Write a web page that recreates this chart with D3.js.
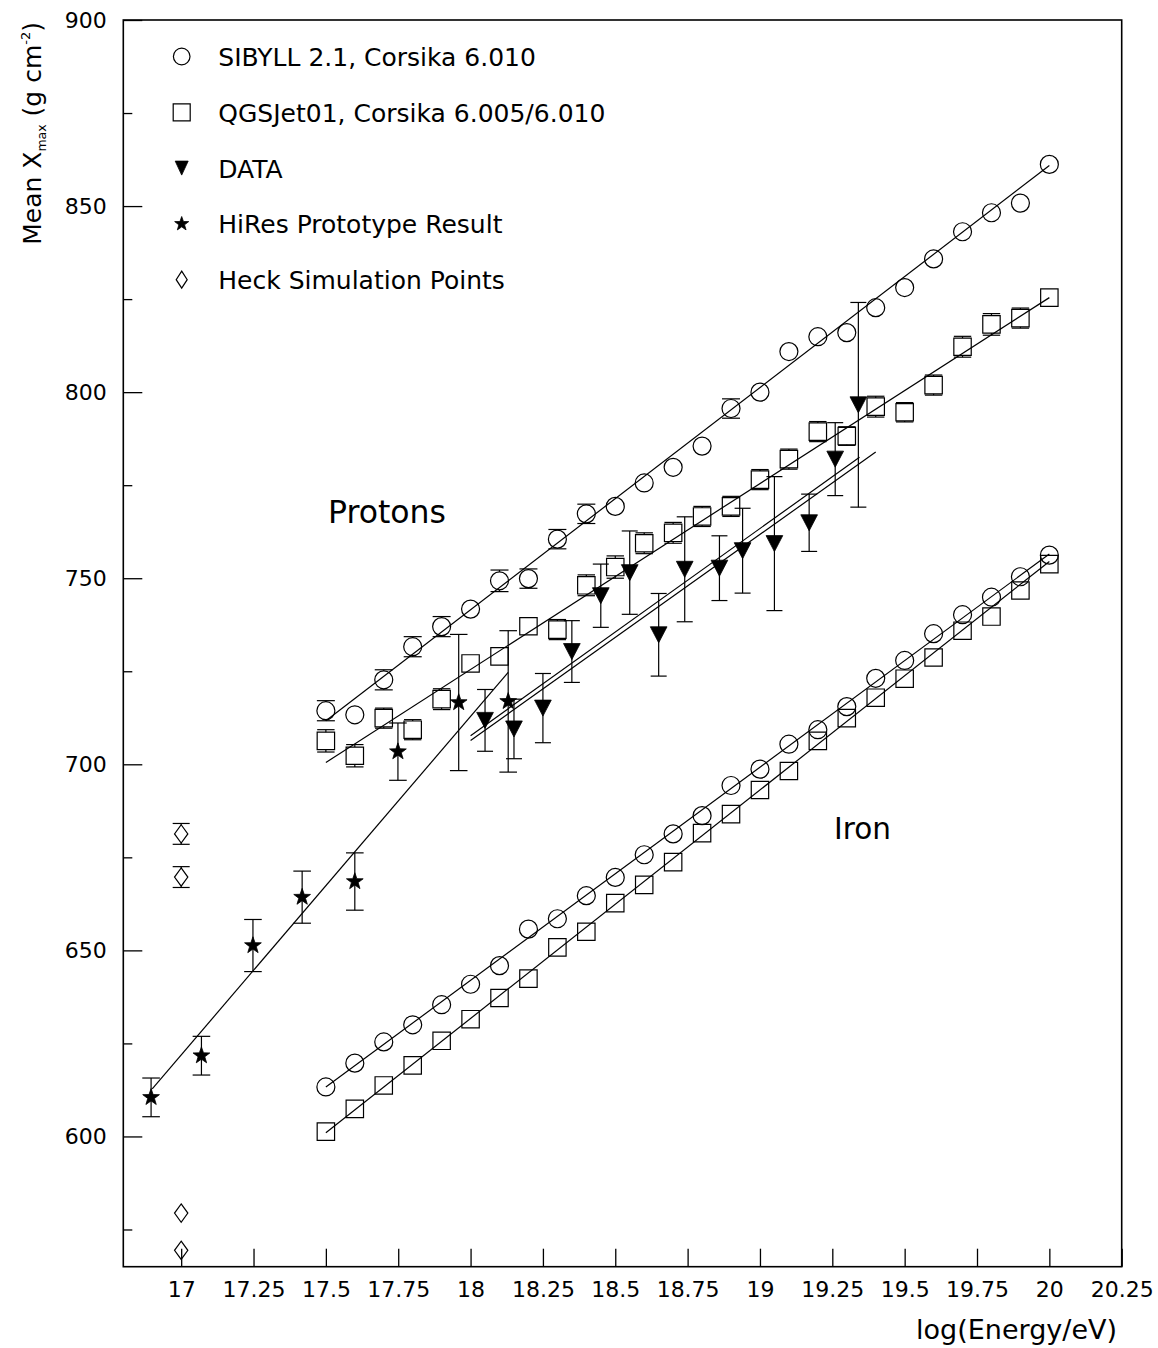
<!DOCTYPE html>
<html><head><meta charset="utf-8">
<script src="https://cdn.jsdelivr.net/npm/d3@7"></script>
<style>
body{margin:0;background:#fff}
svg{display:block}
text{font-family:"DejaVu Sans",sans-serif;fill:#000}
</style>
</head><body>
<svg id="c" width="1158" height="1348"></svg>
<script>
// ---------------- data ----------------
const energyGrid = [17.5,17.6,17.7,17.8,17.9,18.0,18.1,18.2,18.3,18.4,18.5,18.6,18.7,18.8,18.9,19.0,19.1,19.2,19.3,19.4,19.5,19.6,19.7,19.8,19.9,20.0];
const sibyllProton    = [714.4,713.3,722.7,731.6,737.0,741.7,749.3,749.9,760.5,767.3,769.3,775.6,779.8,785.5,795.6,800.0,810.9,814.9,816.0,822.7,828.1,835.8,843.1,848.2,850.8,861.2];
const sibyllProtonErr = [2.7,2.2,2.7,2.7,2.7,1.5,2.9,2.6,2.6,2.6,2.4,2.4,1.5,1.5,2.6,2.4,2.5,2.5,2.4,1.5,1.5,1.5,2.4,1.5,1.5,1.5];
const qgsjetProton    = [706.3,702.3,712.4,709.3,717.5,727.1,729.0,737.1,736.2,748.1,753.0,759.4,762.2,766.6,769.3,776.5,782.0,789.4,788.2,796.1,794.6,801.9,812.2,818.2,819.9,825.4];
const qgsjetProtonErr = [3.0,3.0,2.7,2.7,2.8,1.5,1.5,1.5,2.7,2.8,3.0,2.8,2.8,2.7,2.7,2.7,2.7,2.7,2.5,2.8,2.6,2.7,2.8,2.9,2.7,1.5];
const sibyllIron      = [613.3,619.7,625.4,630.0,635.4,640.9,645.9,655.7,658.5,664.7,669.6,675.7,681.3,686.2,694.3,698.7,705.4,709.3,715.5,723.1,727.9,735.1,740.2,744.9,750.4,756.2];
const qgsjetIron      = [601.3,607.4,613.7,619.1,625.7,631.5,637.2,642.4,650.8,655.0,662.7,667.6,673.7,681.5,686.6,693.1,698.2,706.3,712.4,717.9,723.0,728.7,735.9,739.7,746.7,753.8];

const dataEnergy = [18.05,18.15,18.25,18.35,18.45,18.55,18.65,18.74,18.86,18.94,19.05,19.17,19.26,19.34];
const dataXmax   = [711.8,709.5,715.1,730.3,745.3,751.5,734.8,752.4,752.7,757.4,759.3,764.9,782.0,796.6];
const dataErr    = [8.3,8.0,9.3,8.3,8.5,11.2,11.1,14.1,8.7,11.4,18.0,7.7,9.8,27.5];

const hiresEnergy = [16.896,17.07,17.248,17.418,17.6,17.749,17.959,18.13];
const hiresXmax   = [610.5,621.7,651.3,664.3,668.5,703.4,716.6,716.9];
const hiresErr    = [5.2,5.2,7.0,7.0,7.7,7.7,18.3,19.0];

const heckEnergy = [17.0,17.0,17.0,17.0];
const heckXmax   = [681.3,669.7,579.4,569.4];
const heckErr    = [2.8,2.8,0,0];

// straight-line fits: [[E0, X0], [E1, X1]]
const fitSibyllProton = [[17.5,711.7],[20.0,860.9]];
const fitQgsjetProton = [[17.5,700.5],[20.0,825.4]];
const fitSibyllIron   = [[17.5,613.3],[20.0,756.5]];
const fitQgsjetIron   = [[17.5,601.0],[20.0,754.5]];
const fitHires        = [[16.9,612.8],[18.13,724.7]];
const fitDataA        = [[18.0,707.7],[19.344,782.5]];
const fitDataB        = [[18.0,706.4],[19.4,783.9]];

const xTicks      = [17,17.25,17.5,17.75,18,18.25,18.5,18.75,19,19.25,19.5,19.75,20,20.25];
const yTicksMajor = [600,650,700,750,800,850,900];
const yTicksMinor = [575,625,675,725,775,825,875];

const legendLabels = ["SIBYLL 2.1, Corsika 6.010","QGSJet01, Corsika 6.005/6.010","DATA","HiRes Prototype Result","Heck Simulation Points"];
const legendSymbols = ["circle","square","triangle","star","diamond"];

// ---------------- drawing ----------------
const svg = d3.select("#c");
const L = 123.3, R = 1121.7, T = 20, B = 1266.7;
const x = d3.scaleLinear().domain([16.8, 20.25]).range([L, R]);
const y = d3.scaleLinear().domain([565, 900]).range([B, T]);

// axes
const gx = svg.append("g").attr("transform", `translate(0,${B})`)
  .call(d3.axisBottom(x).tickValues(xTicks).tickSizeInner(-18).tickSizeOuter(0).tickPadding(14.4).tickFormat(d => String(d)));
const gy = svg.append("g").attr("transform", `translate(${L},0)`)
  .call(d3.axisLeft(y).tickValues(yTicksMajor).tickSizeInner(-19).tickSizeOuter(0).tickPadding(16.6).tickFormat(d => String(d)));
const gy2 = svg.append("g").attr("transform", `translate(${L},0)`)
  .call(d3.axisLeft(y).tickValues(yTicksMinor).tickSizeInner(-9).tickSizeOuter(0).tickFormat(""));
[gx, gy, gy2].forEach(g => {
  g.select(".domain").remove();
  g.selectAll(".tick line").attr("stroke", "#000").attr("stroke-width", 1.3);
  g.selectAll(".tick text").attr("font-size", 22).attr("font-family", "DejaVu Sans").attr("fill", "#000");
});

// frame
svg.append("rect").attr("x", L).attr("y", T).attr("width", R - L).attr("height", B - T)
  .attr("fill", "none").attr("stroke", "#000").attr("stroke-width", 1.6);

// axis titles
const yl = svg.append("text").attr("transform", `translate(40.5,22) rotate(-90)`)
  .attr("text-anchor", "end").attr("font-size", 25);
yl.append("tspan").text("Mean X");
yl.append("tspan").attr("font-size", 12.5).attr("dy", 5).text("max");
yl.append("tspan").attr("dy", -5).text(" (g cm");
yl.append("tspan").attr("font-size", 13).attr("dy", -11).text("-2");
yl.append("tspan").attr("dy", 11).text(")");

svg.append("text").attr("x", 1117).attr("y", 1339).attr("text-anchor", "end")
  .attr("font-size", 27).text("log(Energy/eV)");

// annotations
svg.append("text").attr("x", 328).attr("y", 523.3).attr("font-size", 31.5).text("Protons");
svg.append("text").attr("x", 834).attr("y", 839.3).attr("font-size", 29.5).text("Iron");

// marker shapes
function starPath(Rr) {
  const pts = [];
  for (let i = 0; i < 10; i++) {
    const r = i % 2 === 0 ? Rr : Rr * 0.4;
    const a = -Math.PI / 2 + i * Math.PI / 5;
    pts.push([r * Math.cos(a), r * Math.sin(a)]);
  }
  return "M" + pts.map(p => p[0].toFixed(2) + "," + p[1].toFixed(2)).join("L") + "Z";
}
function markerPath(kind, s) {
  switch (kind) {
    case "circle": return d3.path().toString();
    case "square": return `M${-s.w/2},${-s.h/2}h${s.w}v${s.h}h${-s.w}Z`;
    case "triangle": return `M${-s.w/2},${-s.h/2}L${s.w/2},${-s.h/2}L0,${s.h/2}Z`;
    case "diamond": return `M0,${-s.h/2}L${s.w/2},0L0,${s.h/2}L${-s.w/2},0Z`;
    case "star": return starPath(s.r);
  }
}
function drawMarker(g, kind, cx, cy, s) {
  if (kind === "circle") {
    g.append("circle").attr("cx", cx).attr("cy", cy).attr("r", s.r)
      .attr("fill", "none").attr("stroke", "#000").attr("stroke-width", 1.2);
  } else {
    const filled = kind === "triangle" || kind === "star";
    g.append("path").attr("d", markerPath(kind, s)).attr("transform", `translate(${cx},${cy})`)
      .attr("fill", filled ? "#000" : "none").attr("stroke", "#000").attr("stroke-width", filled ? 0.8 : 1.2);
  }
}

const gFit = svg.append("g").attr("stroke", "#000").attr("stroke-width", 1.2).attr("fill", "none");
const lineGen = d3.line().x(d => x(d[0])).y(d => y(d[1]));
[fitSibyllProton, fitQgsjetProton, fitSibyllIron, fitQgsjetIron, fitHires, fitDataA, fitDataB]
  .forEach(f => gFit.append("path").attr("d", lineGen(f)));

const gErr = svg.append("g").attr("stroke", "#000").attr("stroke-width", 1.2);
function errorBars(xs, ys, es, halfPx, capHalf, gap) {
  xs.forEach((e, i) => {
    const cx = x(e), cy = y(ys[i]), top = y(ys[i] + es[i]), bot = y(ys[i] - es[i]);
    const h = gap ? halfPx : 0;
    if (cy - top > halfPx + 0.5) {
      gErr.append("line").attr("x1", cx).attr("x2", cx).attr("y1", top).attr("y2", cy - h);
      gErr.append("line").attr("x1", cx - capHalf).attr("x2", cx + capHalf).attr("y1", top).attr("y2", top);
    }
    if (bot - cy > halfPx + 0.5) {
      gErr.append("line").attr("x1", cx).attr("x2", cx).attr("y1", cy + h).attr("y2", bot);
      gErr.append("line").attr("x1", cx - capHalf).attr("x2", cx + capHalf).attr("y1", bot).attr("y2", bot);
    }
  });
}
const circS = {r: 9}, sqS = {w: 17.4, h: 17.4}, triS = {w: 16.7, h: 16}, starS = {r: 8.8}, diaS = {w: 13.3, h: 18.3};

errorBars(energyGrid, sibyllProton, sibyllProtonErr, 9, 9, true);
errorBars(energyGrid, qgsjetProton, qgsjetProtonErr, 8.7, 8.7, true);
errorBars(dataEnergy, dataXmax, dataErr, 8, 8, false);
errorBars(hiresEnergy, hiresXmax, hiresErr, 8.8, 8.8, false);
errorBars(heckEnergy, heckXmax, heckErr, 9.15, 8.5, true);

const gM = svg.append("g");
energyGrid.forEach((e, i) => {
  drawMarker(gM, "circle", x(e), y(sibyllProton[i]), circS);
  drawMarker(gM, "square", x(e), y(qgsjetProton[i]), sqS);
  drawMarker(gM, "circle", x(e), y(sibyllIron[i]), circS);
  drawMarker(gM, "square", x(e), y(qgsjetIron[i]), sqS);
});
dataEnergy.forEach((e, i) => drawMarker(gM, "triangle", x(e), y(dataXmax[i]), triS));
hiresEnergy.forEach((e, i) => drawMarker(gM, "star", x(e), y(hiresXmax[i]), starS));
heckEnergy.forEach((e, i) => drawMarker(gM, "diamond", x(e), y(heckXmax[i]), diaS));

// legend
const legSizes = {circle: {r: 8.3}, square: {w: 17, h: 17}, triangle: {w: 13, h: 14}, star: {r: 7.4}, diamond: {w: 11, h: 17}};
const gL = svg.append("g");
legendLabels.forEach((lab, i) => {
  const base = 66 + 55.8 * i;
  drawMarker(gL, legendSymbols[i], 181.7, base - 9.5, legSizes[legendSymbols[i]]);
  gL.append("text").attr("x", 218.3).attr("y", base).attr("font-size", 25).text(lab);
});
</script>
</body></html>
